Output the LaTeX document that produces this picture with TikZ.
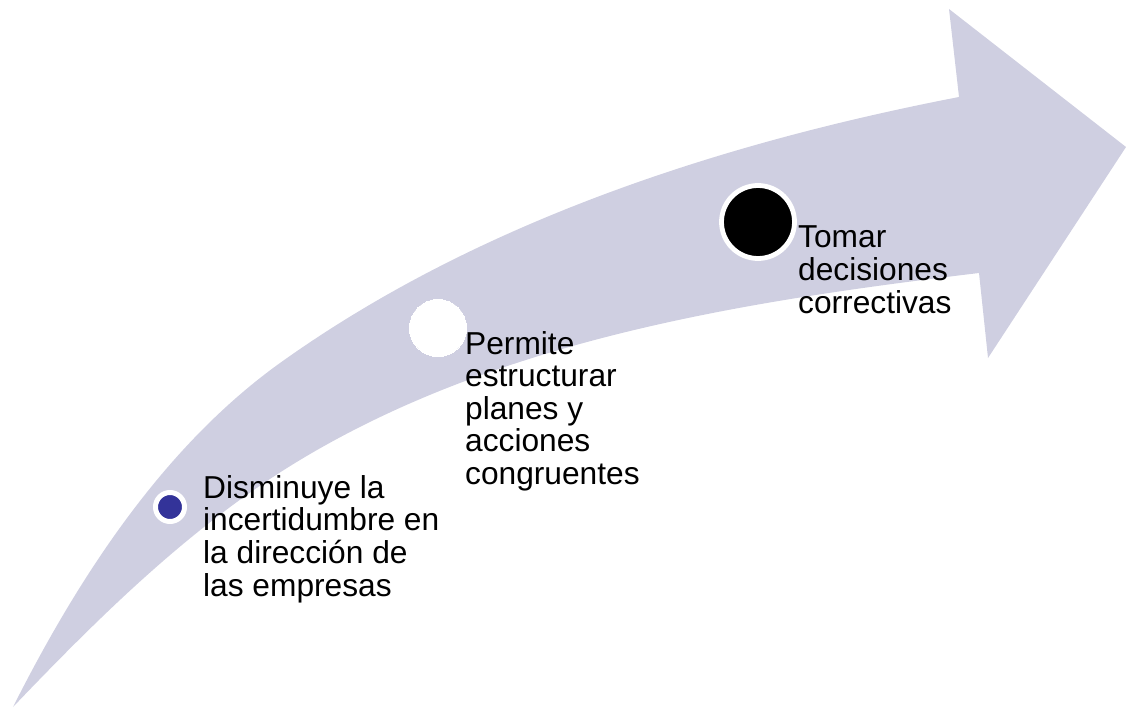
\documentclass[tikz,border=0pt]{standalone}
\usepackage{fontspec}
\setmainfont{Liberation Sans}
\definecolor{bandcol}{RGB}{207,207,225}
\definecolor{dotblue}{RGB}{51,51,153}
\begin{document}
\begin{tikzpicture}[x=1pt,y=-1pt,
  lbl/.style={anchor=base west,inner sep=0pt,font=\fontsize{31.7}{32.5}\selectfont},
  dot/.style={circle,inner sep=0pt,draw=white}]
\useasboundingbox (0,0) rectangle (1126,708);
% curved arrow
\fill[bandcol] (13,707)
  .. controls (78,578) and (163,447) .. (280,363)
  .. controls (477,222) and (721,143) .. (959,97)
  -- (949,9) -- (1126,147) -- (988,358) -- (979,273)
  .. controls (746,301) and (501,339) .. (300,460)
  .. controls (192,525) and (100,616) .. (13,707)
  -- cycle;
% markers
\node[dot,fill=dotblue,line width=5pt,minimum size=29pt] (c1) at (170,507) {};
\node[dot,fill=white,line width=0pt,minimum size=57pt] (c2) at (438,328) {};
\node[dot,fill=black,line width=4.8pt,minimum size=73pt] (c3) at (758,222) {};
% labels
\node[lbl] (t1) at (203,498) {\begin{tabular}[t]{@{}l@{}}Disminuye la\\incertidumbre en\\la dirección de\\las empresas\end{tabular}};
\node[lbl] (t2) at (465,354) {\begin{tabular}[t]{@{}l@{}}Permite\\estructurar\\planes y\\acciones\\congruentes\end{tabular}};
\node[lbl] (t3) at (798,248) {\begin{tabular}[t]{@{}l@{}}Tomar\\decisiones\\correctivas\end{tabular}};
\end{tikzpicture}
\end{document}
